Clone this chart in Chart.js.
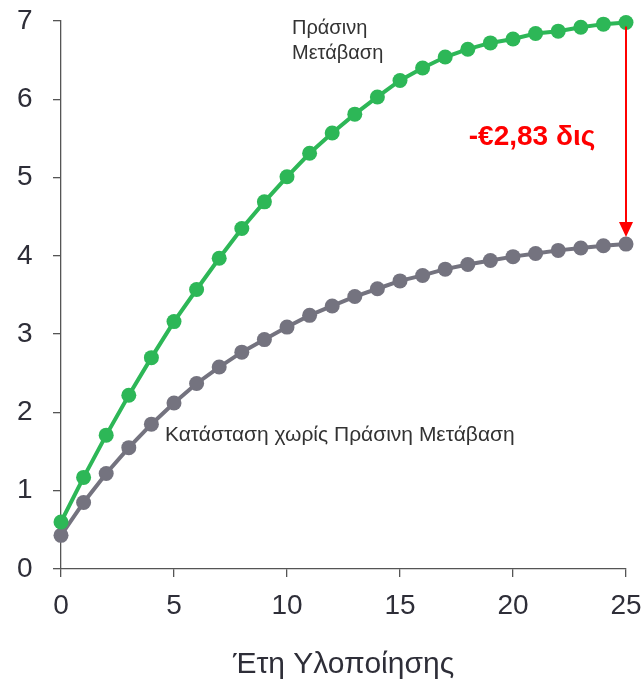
<!DOCTYPE html>
<html>
<head>
<meta charset="utf-8">
<script src="https://cdn.jsdelivr.net/npm/chart.js@4/dist/chart.umd.min.js"></script>
<style>
  html, body { margin: 0; padding: 0; background: #fff; }
  #wrap { width: 644px; height: 683px; }
</style>
</head>
<body>
<div id="wrap"><canvas id="chart"></canvas></div>
<script>
// years 0..25
const years = [0, 1, 2, 3, 4, 5, 6, 7, 8, 9, 10, 11, 12, 13, 14, 15, 16, 17, 18, 19, 20, 21, 22, 23, 24, 25];
// with green transition
const greenVals = [0.60, 1.17, 1.71, 2.22, 2.70, 3.16, 3.57, 3.97, 4.35, 4.69, 5.01, 5.31, 5.57, 5.81, 6.03, 6.24,
  6.40, 6.54, 6.64, 6.72, 6.77, 6.84, 6.87, 6.92, 6.96, 6.98];
// without green transition
const grayVals = [0.43, 0.85, 1.22, 1.55, 1.85, 2.12, 2.37, 2.58, 2.77, 2.93, 3.09, 3.24, 3.36, 3.48, 3.58, 3.68,
  3.75, 3.83, 3.89, 3.94, 3.99, 4.03, 4.07, 4.10, 4.13, 4.15];
const xTicks = [0, 5, 10, 15, 20, 25];
const yTicks = [0, 1, 2, 3, 4, 5, 6, 7];

const greenLabel = ["Πράσινη", "Μετάβαση"];
const grayLabel = "Κατάσταση χωρίς Πράσινη Μετάβαση";
const diffLabel = "-€2,83 δις";
const xTitle = "Έτη Υλοποίησης";

const GREEN = "#2db757";
const GRAY = "#74737f";
const TEXT = "#2e2e38";
const FONT = "'Liberation Sans', Arial, sans-serif";

function toPoints(vals) {
  return years.map((y, i) => ({ x: y, y: vals[i] }));
}

// draws the text labels and the red arrow
const notes = {
  id: "notes",
  afterDatasetsDraw(chart) {
    const ctx = chart.ctx;
    const xs = chart.scales.x;
    const ys = chart.scales.y;
    ctx.save();

    ctx.fillStyle = "#333";
    ctx.font = "20px " + FONT;
    ctx.textAlign = "left";
    ctx.textBaseline = "alphabetic";
    ctx.fillText(greenLabel[0], xs.getPixelForValue(10.22), ys.getPixelForValue(6.83));
    ctx.fillText(greenLabel[1], xs.getPixelForValue(10.22), ys.getPixelForValue(6.52));
    ctx.font = "21px " + FONT;
    ctx.fillText(grayLabel, xs.getPixelForValue(4.6), ys.getPixelForValue(1.63));

    ctx.fillStyle = "#ff0000";
    ctx.font = "bold 28px " + FONT;
    ctx.textAlign = "center";
    ctx.fillText(diffLabel, xs.getPixelForValue(20.84), ys.getPixelForValue(5.42));

    // arrow from green end to gray end
    const last = years.length - 1;
    const ax = xs.getPixelForValue(years[last]);
    const y1 = ys.getPixelForValue(greenVals[last]) + 4;
    const y2 = ys.getPixelForValue(grayVals[last]) - 7;
    ctx.strokeStyle = "#ff0000";
    ctx.lineWidth = 2;
    ctx.beginPath();
    ctx.moveTo(ax, y1);
    ctx.lineTo(ax, y2 - 12);
    ctx.stroke();
    ctx.fillStyle = "#ff0000";
    ctx.beginPath();
    ctx.moveTo(ax - 7, y2 - 15);
    ctx.lineTo(ax + 7, y2 - 15);
    ctx.lineTo(ax, y2);
    ctx.closePath();
    ctx.fill();

    ctx.restore();
  }
};

const chart = new Chart(document.getElementById("chart"), {
  type: "line",
  data: {
    datasets: [
      {
        label: "green",
        data: toPoints(greenVals),
        borderColor: GREEN,
        backgroundColor: GREEN,
        borderWidth: 4,
        pointRadius: 7.5,
        pointBorderWidth: 0,
        pointHoverRadius: 7.5,
        tension: 0,
        clip: false
      },
      {
        label: "gray",
        data: toPoints(grayVals),
        borderColor: GRAY,
        backgroundColor: GRAY,
        borderWidth: 4,
        pointRadius: 7.5,
        pointBorderWidth: 0,
        pointHoverRadius: 7.5,
        tension: 0,
        clip: false
      }
    ]
  },
  options: {
    responsive: true,
    maintainAspectRatio: false,
    animation: false,
    layout: { padding: { top: 0, right: 0, left: 17, bottom: 0 } },
    plugins: {
      legend: { display: false },
      tooltip: { enabled: false }
    },
    scales: {
      x: {
        type: "linear",
        min: 0,
        max: 25,
        afterBuildTicks: (axis) => { axis.ticks = xTicks.map(v => ({ value: v })); },
        afterFit: (axis) => { axis.height = 114; axis.paddingRight = 18; },
        border: { display: true, color: "#555", width: 1.3 },
        grid: { drawOnChartArea: false, drawTicks: true, tickLength: 8, color: "#555", lineWidth: 1.3 },
        ticks: { color: TEXT, font: { size: 28, family: FONT }, padding: 12, maxRotation: 0 },
        title: { display: true, text: xTitle, color: TEXT, font: { size: 30, family: FONT }, padding: { top: 0, bottom: 0 } }
      },
      y: {
        type: "linear",
        min: 0,
        max: 7,
        afterBuildTicks: (axis) => { axis.ticks = yTicks.map(v => ({ value: v })); },
        afterFit: (axis) => { axis.width = 44; axis.paddingTop = 21; },
        border: { display: true, color: "#555", width: 1.3 },
        grid: { drawOnChartArea: false, drawTicks: true, tickLength: 8, color: "#555", lineWidth: 1.3 },
        ticks: { color: TEXT, font: { size: 28, family: FONT }, padding: 4, crossAlign: "far" }
      }
    }
  },
  plugins: [notes]
});
</script>
</body>
</html>
